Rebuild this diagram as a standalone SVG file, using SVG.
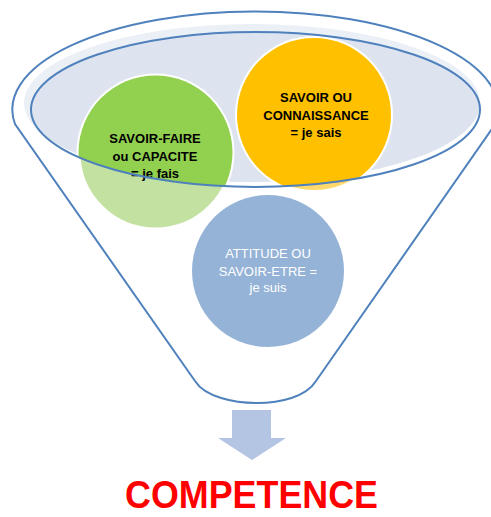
<svg xmlns="http://www.w3.org/2000/svg" width="491" height="517" viewBox="0 0 491 517">
  <defs>
    <style>
      .outline { fill: none; stroke: #4f81bd; stroke-width: 2; }
      .ring { stroke: #ffffff; stroke-width: 4; }
      .lbl { font-family: "Liberation Sans", Arial, sans-serif; font-size: 13px; text-anchor: middle; }
      .bold { font-weight: bold; fill: #000000; }
      .light { fill: #ffffff; }
    </style>
    <!-- mouth of the funnel: circles are saturated inside it, faded below it -->
    <clipPath id="mouth">
      <ellipse cx="255.5" cy="109.5" rx="224.5" ry="77.5"/>
    </clipPath>
  </defs>

  <rect width="491" height="517" fill="#ffffff"/>

  <!-- funnel body -->
  <g id="funnel">
    <path class="outline" d="M 15,124 A 243 98 0 1 1 496,123 L 316,381 C 306,397 280,403 257,403 C 234,403 205,397 195,381 Z"/>
  </g>

  <!-- shaded bowl inside the funnel mouth -->
  <g id="bowl">
    <ellipse cx="252" cy="103" rx="228" ry="79" fill="#ebeff6"/>
    <ellipse cx="252" cy="103" rx="228" ry="79" fill="#dee4ef" clip-path="url(#mouth)"/>
  </g>

  <g id="savoir-etre">
    <circle cx="268" cy="271" r="76" fill="#95b3d7"/>
    <text class="lbl light" x="268" y="258">ATTITUDE OU</text>
    <text class="lbl light" x="268" y="276">SAVOIR-ETRE =</text>
    <text class="lbl light" x="268" y="292">je suis</text>
  </g>

  <g id="savoir-faire">
    <circle class="ring" cx="155.5" cy="152.5" r="77" fill="#c3e2a2"/>
    <circle cx="155.5" cy="152.5" r="77" fill="#92d050" clip-path="url(#mouth)"/>
    <text class="lbl bold" x="155" y="143">SAVOIR-FAIRE</text>
    <text class="lbl bold" x="155" y="160.5">ou CAPACITE</text>
    <text class="lbl bold" x="155" y="177.5">= je fais</text>
  </g>

  <g id="savoir">
    <circle class="ring" cx="314" cy="115" r="77" fill="#ffd96b"/>
    <circle cx="314" cy="115" r="77" fill="#ffc000" clip-path="url(#mouth)"/>
    <text class="lbl bold" x="316" y="102">SAVOIR OU</text>
    <text class="lbl bold" x="316" y="120">CONNAISSANCE</text>
    <text class="lbl bold" x="316" y="137">= je sais</text>
  </g>

  <!-- rim of the funnel mouth, drawn over the circles -->
  <g id="rim">
    <ellipse class="outline" cx="255.5" cy="109.5" rx="224.5" ry="77.5"/>
  </g>

  <g id="connectors">
    <polygon points="232,410 271,410 271,438 286,438 252,460 218,438 232,438" fill="#b3c5e2"/>
  </g>

  <g id="competence">
    <text x="251.5" y="508" font-family="'Liberation Sans', Arial, sans-serif" font-size="38" font-weight="bold" fill="#ff0000" text-anchor="middle" textLength="253" lengthAdjust="spacingAndGlyphs">COMPETENCE</text>
  </g>
</svg>
